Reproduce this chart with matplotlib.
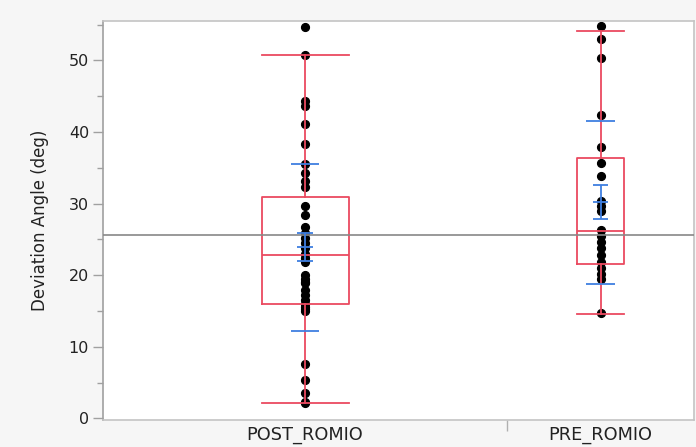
import numpy as np
import matplotlib
matplotlib.use('Agg')
import matplotlib.pyplot as plt
from matplotlib.ticker import MultipleLocator, FixedLocator, NullFormatter

# ─────────────────────────────────────────────────────────────
# Datos (ángulo de desviación, grados)
# ─────────────────────────────────────────────────────────────
grupos = ['POST_ROMIO', 'PRE_ROMIO']

post_romio = [54.6, 50.8, 44.3, 43.6, 41.1, 38.3, 35.6, 34.3, 33.2, 32.3,
              29.7, 28.4, 26.8, 25.9, 25.2, 24.5, 23.8, 23.0, 22.4, 21.8,
              20.0, 19.5, 19.0, 18.9, 17.9, 17.3, 16.6, 16.0, 15.6, 15.3,
              15.0, 7.6, 5.3, 3.5, 2.3, 2.1]
pre_romio = [54.8, 53.0, 50.4, 42.4, 37.9, 35.7, 33.9, 30.3, 29.7, 29.0,
             26.3, 25.5, 24.7, 23.8, 22.8, 21.9, 21.0, 20.2, 19.5, 14.7]

# resumen del box plot (cuantiles y bigotes)
q1      = [16.0, 21.5]
mediana = [22.8, 26.2]
q3      = [30.9, 36.4]
bigote_inf = [2.1, 14.6]
bigote_sup = [50.8, 54.1]

# media, desviación estándar y error estándar
media   = [23.9, 30.2]
desv    = [11.7, 11.4]
err_est = [1.95, 2.4]

media_global = 25.6

# ─────────────────────────────────────────────────────────────
# Layout
# ─────────────────────────────────────────────────────────────
ROJO = '#ea4a60'
AZUL = '#3f7fe0'
GRIS = '#888888'

bordes = [0, 0.684, 1.0]                     # ancho de cada categoría
centros = [(bordes[i] + bordes[i + 1]) / 2 for i in range(2)]
ancho_caja = [0.147, 0.080]

fig = plt.figure(figsize=(6.96, 4.47), dpi=100)
fig.patch.set_facecolor('#f6f6f6')
ax = fig.add_axes([0.148, 0.0615, 0.849, 0.8915])
ax.set_facecolor('white')

# puntos
for c, vals in zip(centros, [post_romio, pre_romio]):
    ax.plot([c] * len(vals), vals, 'o', color='black', ms=5.6, zorder=2)

# box plots
stats = []
for i in range(2):
    stats.append(dict(q1=q1[i], med=mediana[i], q3=q3[i],
                      whislo=bigote_inf[i], whishi=bigote_sup[i], fliers=[]))
ax.bxp(stats, positions=centros, widths=ancho_caja, showfliers=False,
       capwidths=ancho_caja, manage_ticks=False,
       boxprops=dict(color=ROJO, lw=1.3),
       medianprops=dict(color=ROJO, lw=1.3),
       whiskerprops=dict(color=ROJO, lw=1.3),
       capprops=dict(color=ROJO, lw=1.3), zorder=3)

# media global
ax.axhline(media_global, color=GRIS, lw=1.2, zorder=3)

# líneas de desviación estándar y barras de error de la media
for c, m, s, e in zip(centros, media, desv, err_est):
    ax.hlines([m - s, m + s], c - 0.024, c + 0.024, color=AZUL, lw=1.3, zorder=4)
    ax.hlines([m - e, m, m + e], c - 0.013, c + 0.013, color=AZUL, lw=1.3, zorder=4)
    ax.vlines(c, m - e, m + e, color=AZUL, lw=1.3, zorder=4)

# ejes
ax.set_xlim(0, 1)
ax.set_ylim(-0.15, 55.5)
ax.yaxis.set_major_locator(MultipleLocator(10))
ax.yaxis.set_minor_locator(MultipleLocator(5))
ax.tick_params(axis='y', which='major', length=7, width=1, color='#a0a0a0',
               labelsize=11.5, labelcolor='#222222', pad=3)
ax.tick_params(axis='y', which='minor', length=4, width=1, color='#a0a0a0')

ax.xaxis.set_major_locator(FixedLocator([bordes[1]]))
ax.xaxis.set_major_formatter(NullFormatter())
ax.xaxis.set_minor_locator(FixedLocator(centros))
ax.set_xticklabels(grupos, minor=True)
ax.tick_params(axis='x', which='major', length=8, width=1, color='#b0b0b0')
ax.tick_params(axis='x', which='minor', length=0, labelsize=12.8,
               labelcolor='#222222', pad=5)

ax.set_ylabel('Deviation Angle (deg)', fontsize=12, color='#222222', labelpad=14)

for lado, col in [('left', '#a0a0a0'), ('top', '#c4c4c4'),
                  ('right', '#c4c4c4'), ('bottom', '#c4c4c4')]:
    ax.spines[lado].set_color(col)
    ax.spines[lado].set_linewidth(1.2)

plt.savefig('out.png', dpi=100, facecolor=fig.get_facecolor())
